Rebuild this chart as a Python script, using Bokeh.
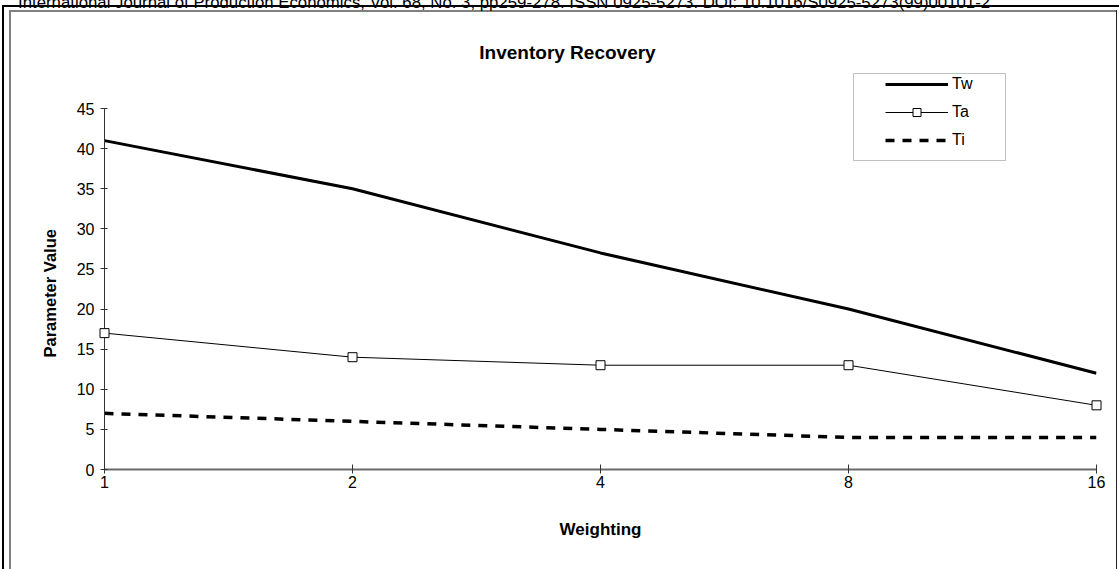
from bokeh.plotting import figure
from bokeh.layouts import column
from bokeh.models import (Label, BoxAnnotation, Legend, LegendItem, FixedTicker,
                          BasicTickFormatter, Range1d, Title, Div)
from bokeh.embed import file_html
from bokeh.resources import INLINE

# Data
weighting = [1, 2, 4, 8, 16]
tw = [41, 35, 27, 20, 12]
ta = [17, 14, 13, 13, 8]
ti = [7, 6, 5, 4, 4]
y_ticks = [0, 5, 10, 15, 20, 25, 30, 35, 40, 45]

FONT = "Liberation Sans"
HEADER = ("International Journal of Production Economics, Vol. 68, No. 3, "
          "pp259-278. ISSN 0925-5273. DOI: 10.1016/S0925-5273(99)00101-2")

# Running page header, a thin strip above the chart
header = Div(text=(f'<div style="position:relative; top:-5px; left:18px; '
                   f'white-space:nowrap; font-family:\'{FONT}\'; font-size:16.8px; '
                   f'line-height:16px; color:black;">{HEADER}</div>'),
             width=1119, height=10, margin=0, styles={"overflow": "visible"})

# The frame reaches the top of the canvas so the title and legend sit inside it;
# the y axis is bounded to the data span.
p = figure(width=1119, height=559, x_axis_type="log",
           x_range=Range1d(1, 16), y_range=Range1d(0, 57.22),
           output_backend="svg", toolbar_location=None, title=None,
           min_border_left=104, min_border_right=23,
           min_border_top=0, min_border_bottom=100, margin=0)
p.outline_line_color = None
p.background_fill_alpha = 0
p.border_fill_alpha = 0
p.xgrid.visible = False
p.ygrid.visible = False

# Series
r_tw = p.line(weighting, tw, line_color="black", line_width=3)
r_ta = p.line(weighting, ta, line_color="black", line_width=1)
r_ta_pts = p.scatter(weighting, ta, marker="square", size=9, level="overlay",
                     fill_color="white", line_color="black", line_width=1)
r_ti = p.line(weighting, ti, line_color="black", line_width=3.5, line_dash="9 8")

# Axes
xa = p.xaxis[0]
xa.ticker = FixedTicker(ticks=weighting)
xa.formatter = BasicTickFormatter()
xa.minor_tick_line_color = None
xa.major_tick_in = 5
xa.major_tick_out = 4
xa.major_tick_line_color = "#333333"
xa.axis_line_color = "#6a6a6a"
xa.axis_line_width = 2
xa.major_label_standoff = 2
xa.major_label_text_font = FONT
xa.major_label_text_font_size = "16px"
xa.major_label_text_color = "black"
xa.axis_label = "Weighting"
xa.axis_label_text_font = FONT
xa.axis_label_text_font_style = "bold"
xa.axis_label_text_font_size = "17px"
xa.axis_label_text_color = "black"
xa.axis_label_standoff = 29

ya = p.yaxis[0]
ya.bounds = (0, 45)
ya.ticker = FixedTicker(ticks=y_ticks)
ya.minor_tick_line_color = None
ya.major_tick_in = 3
ya.major_tick_out = 4
ya.major_tick_line_color = "#333333"
ya.axis_line_color = "#333333"
ya.axis_line_width = 1
ya.major_label_standoff = 6
ya.major_label_text_font = FONT
ya.major_label_text_font_size = "16px"
ya.major_label_text_color = "black"

# y-axis title, kept beside the bounded axis span
p.add_layout(Title(text="Parameter Value", align="left", offset=112,
                   vertical_align="bottom", standoff=30,
                   text_font=FONT, text_font_style="bold",
                   text_font_size="16.5px", text_color="black"), "left")

# Legend (its border is a separate box)
legend = Legend(items=[LegendItem(label="Tw", renderers=[r_tw]),
                       LegendItem(label="Ta", renderers=[r_ta, r_ta_pts]),
                       LegendItem(label="Ti", renderers=[r_ti])],
                location=(781, 319), orientation="vertical",
                glyph_width=63, glyph_height=20, label_height=20,
                label_standoff=4, spacing=8, padding=0, margin=0,
                label_text_font=FONT, label_text_font_size="16px",
                label_text_color="black",
                border_line_color=None, background_fill_alpha=0)
p.add_layout(legend, "center")

p.add_layout(BoxAnnotation(left=853, right=1005, top=63, bottom=150,
                           left_units="canvas", right_units="canvas",
                           top_units="canvas", bottom_units="canvas",
                           fill_alpha=0, line_color="#333333", line_width=1))

# Chart title
p.add_layout(Label(x=567, y=42, x_units="canvas", y_units="canvas",
                   text="Inventory Recovery", text_align="center",
                   text_baseline="middle", text_font=FONT,
                   text_font_style="bold", text_font_size="19px",
                   text_color="black"))

# Page frame lines drawn behind the transparent chart
page = column(header, p, spacing=0, margin=0, styles={
    "background-image": ", ".join(["linear-gradient(#000, #000)"] * 2 +
                                  ["linear-gradient(#808080, #808080)"] * 2 +
                                  ["linear-gradient(#222, #222)"]),
    "background-size": "2px 570px, 1119px 2px, 2px 560px, 1107px 2px, 1px 560px",
    "background-position": "2px 5px, 2px 5px, 9px 10px, 9px 10px, 1116px 10px",
    "background-repeat": "no-repeat",
})

open("out.html", "w").write(file_html(page, INLINE))
